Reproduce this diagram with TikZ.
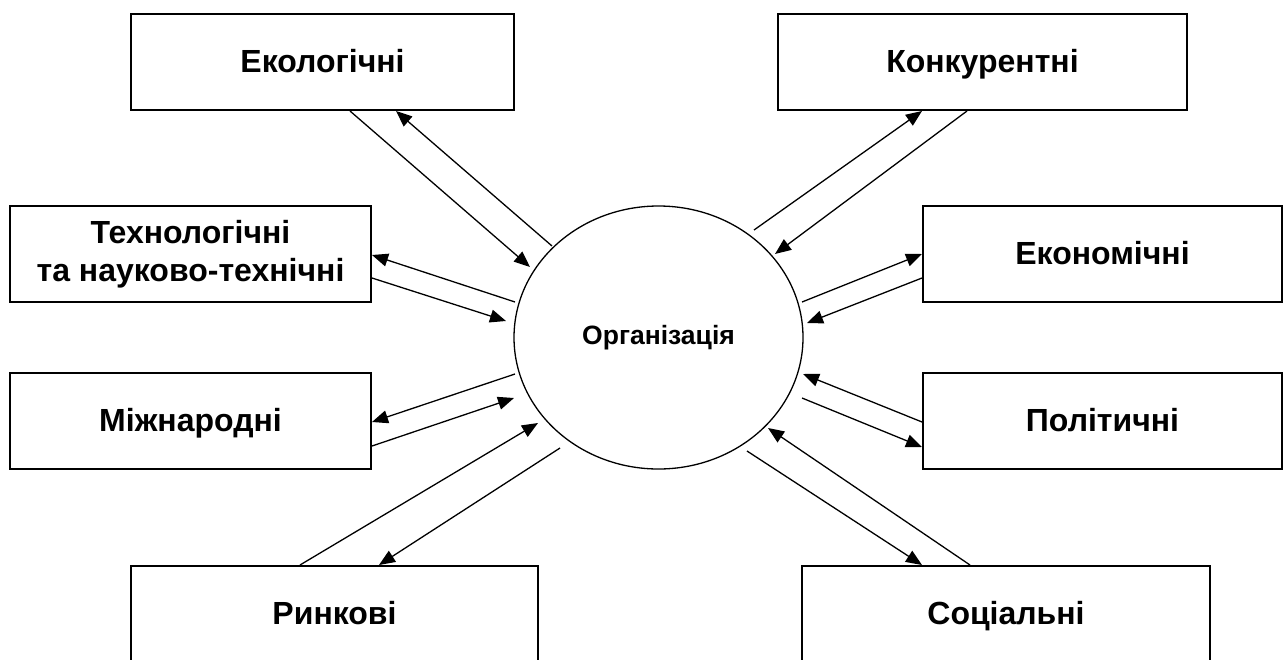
\documentclass[tikz,border=0pt]{standalone}
\usepackage{fontspec}
\setmainfont{Liberation Sans}
\usetikzlibrary{shapes.geometric, arrows.meta}

\tikzset{
	factor/.style={draw, line width=2pt, minimum height=96pt, inner sep=0pt, align=center, text height=24pt, text depth=4pt, font=\fontsize{32}{38}\selectfont\bfseries},
	link/.style={line width=1.3pt, -{Triangle[length=16pt,width=13pt]}}
}

\begin{document}
\begin{tikzpicture}[x=1pt, y=-1pt]
	\useasboundingbox (0,0) rectangle (1284,659);
	\node[draw, ellipse, line width=1.3pt, minimum width=289pt, minimum height=263pt, inner sep=0pt, font=\fontsize{26.5}{30}\selectfont\bfseries] (org) at (658.5,337.5) {Організація};
	\node[factor, minimum width=383pt] (eco) at (322.5,62) {Екологічні};
	\node[factor, minimum width=409pt] (konk) at (982.5,62) {Конкурентні};
	\node[factor, minimum width=361pt, text height=, text depth=] (tech) at (190.5,254) {Технологічні\\та науково-технічні};
	\node[factor, minimum width=359pt] (econ) at (1102.5,254) {Економічні};
	\node[factor, minimum width=361pt] (mizh) at (190.5,421) {Міжнародні};
	\node[factor, minimum width=359pt] (pol) at (1102.5,421) {Політичні};
	\node[factor, minimum width=407pt] (rynk) at (334.5,614) {Ринкові};
	\node[factor, minimum width=408pt] (soc) at (1006,614) {Соціальні};
	\coordinate (ecoIn) at (530,267);
	\coordinate (ecoOut) at (552,246);
	\coordinate (konkIn) at (775,254);
	\coordinate (konkOut) at (754,230);
	\coordinate (techIn) at (506,321);
	\coordinate (techOut) at (515,302);
	\coordinate (econIn) at (807,323);
	\coordinate (econOut) at (802,302);
	\coordinate (mizhIn) at (514,398);
	\coordinate (mizhOut) at (515,374);
	\coordinate (polIn) at (803,374);
	\coordinate (polOut) at (802,398);
	\coordinate (rynkIn) at (538,423);
	\coordinate (rynkOut) at (560,448);
	\coordinate (socIn) at (768,428);
	\coordinate (socOut) at (747,451);
	\draw[link] ([xshift=27.5pt]eco.south) -- (ecoIn);
	\draw[link] (ecoOut) -- ([xshift=73.5pt]eco.south);
	\draw[link] (konkOut) -- ([xshift=-60.5pt]konk.south);
	\draw[link] ([xshift=-15.5pt]konk.south) -- (konkIn);
	\draw[link] (techOut) -- ([yshift=-1pt]tech.east);
	\draw[link] ([yshift=-24pt]tech.east) -- (techIn);
	\draw[link] (econOut) -- (econ.west);
	\draw[link] ([yshift=-24pt]econ.west) -- (econIn);
	\draw[link] (mizhOut) -- ([yshift=-1pt]mizh.east);
	\draw[link] ([yshift=-25pt]mizh.east) -- (mizhIn);
	\draw[link] ([yshift=-1pt]pol.west) -- (polIn);
	\draw[link] (polOut) -- ([yshift=-26pt]pol.west);
	\draw[link] ([xshift=-34.5pt]rynk.north) -- (rynkIn);
	\draw[link] (rynkOut) -- ([xshift=44.5pt]rynk.north);
	\draw[link] ([xshift=-36pt]soc.north) -- (socIn);
	\draw[link] (socOut) -- ([xshift=-84pt]soc.north);
\end{tikzpicture}
\end{document}
